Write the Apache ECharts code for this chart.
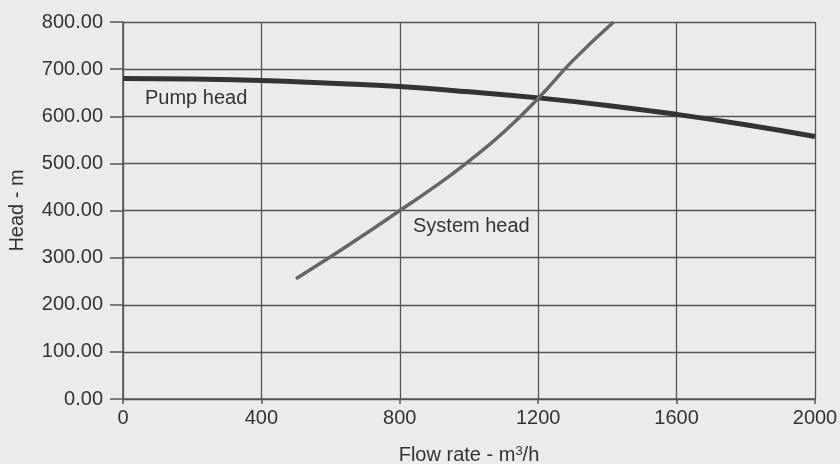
<!DOCTYPE html>
<html>
<head>
<meta charset="utf-8">
<script src="https://cdn.jsdelivr.net/npm/echarts@6/dist/echarts.min.js"></script>
<style>
  html, body { margin: 0; padding: 0; background: #ebebeb; }
  #chart { width: 840px; height: 464px; }
</style>
</head>
<body>
<div id="chart"></div>
<script>
// flow rate (m3/h) and head (m)
const pumpFlow = [0, 200, 400, 600, 800, 1000, 1200, 1400, 1600, 1800, 2000];
const pumpHead = [680, 679, 676, 670, 663, 652, 639, 623, 604, 582, 557];

const sysFlow = [500, 600, 700, 800, 900, 1000, 1100, 1200, 1300, 1418];
const sysHead = [255, 302, 350, 400, 450, 505, 566, 638, 718, 800];

const xTicks = [0, 400, 800, 1200, 1600, 2000];
const yTicks = [0, 100, 200, 300, 400, 500, 600, 700, 800];

const font = 'Liberation Sans, Arial, sans-serif';
const fs = 20;
const chart = echarts.init(document.getElementById('chart'));

chart.setOption({
  backgroundColor: '#ebebeb',
  animation: false,
  grid: { left: 123, right: 25, top: 22, bottom: 65, outerBoundsMode: 'none', containLabel: false },
  xAxis: {
    type: 'value',
    min: xTicks[0],
    max: xTicks[xTicks.length - 1],
    interval: 400,
    name: '{t|Flow rate - m}{s|3}{t|/h}',
    nameLocation: 'middle',
    nameGap: 46,
    nameTextStyle: {
      rich: {
        t: { color: '#333', fontSize: fs, fontFamily: font },
        s: { color: '#333', fontSize: 13, fontFamily: font, verticalAlign: 'top', padding: [0, 0, 8, 0] }
      }
    },
    axisLine: { lineStyle: { color: '#555', width: 1.5 } },
    axisTick: { show: true, length: 5, lineStyle: { color: '#555', width: 1.5 } },
    axisLabel: { color: '#333', fontSize: fs, fontFamily: font, margin: 9, formatter: v => String(v) },
    splitLine: { show: true, lineStyle: { color: '#555', width: 1.3 } }
  },
  yAxis: {
    type: 'value',
    min: yTicks[0],
    max: yTicks[yTicks.length - 1],
    interval: 100,
    name: 'Head - m',
    nameLocation: 'middle',
    nameGap: 96,
    nameTextStyle: { color: '#333', fontSize: fs, fontFamily: font },
    axisLine: { show: true, lineStyle: { color: '#555', width: 1.5 } },
    axisTick: { show: true, length: 13, lineStyle: { color: '#555', width: 1.5 } },
    axisLabel: {
      color: '#333', fontSize: fs, fontFamily: font, margin: 20,
      formatter: v => v.toFixed(2)
    },
    splitLine: { show: true, lineStyle: { color: '#555', width: 1.3 } }
  },
  series: [
    {
      name: 'Pump head',
      type: 'line',
      smooth: true,
      symbol: 'none',
      data: pumpFlow.map((x, i) => [x, pumpHead[i]]),
      lineStyle: { color: '#333', width: 5 },
      z: 3
    },
    {
      name: 'System head',
      type: 'line',
      smooth: true,
      symbol: 'none',
      data: sysFlow.map((x, i) => [x, sysHead[i]]),
      lineStyle: { color: '#666', width: 3.5 },
      z: 4
    }
  ],
  graphic: [
    { type: 'text', left: 145, top: 88, style: { text: 'Pump head', fill: '#333', fontSize: fs, fontFamily: font } },
    { type: 'text', left: 413, top: 216, style: { text: 'System head', fill: '#333', fontSize: fs, fontFamily: font } }
  ]
});
</script>
</body>
</html>
